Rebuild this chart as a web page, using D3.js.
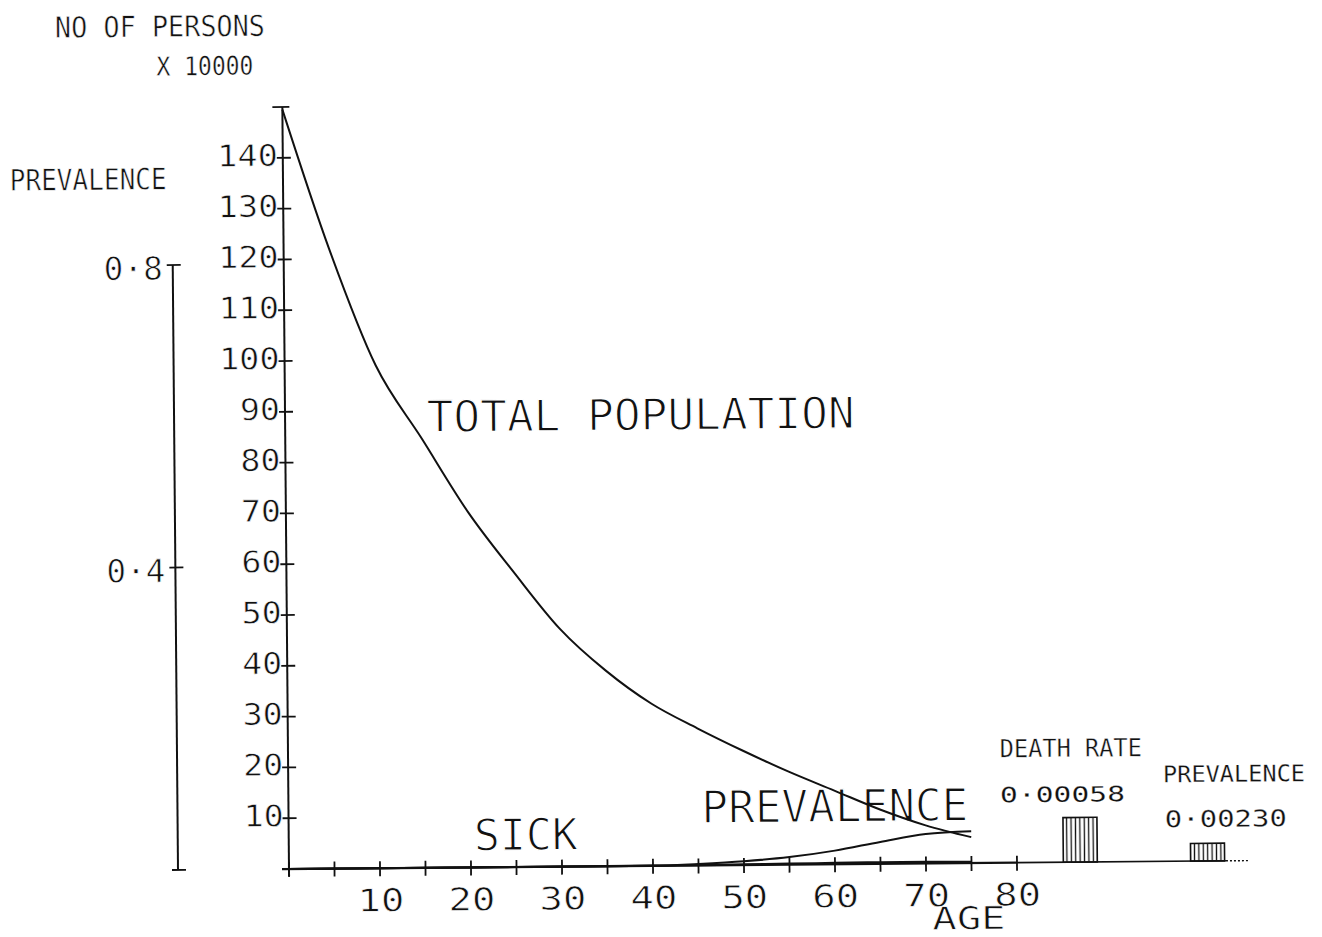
<!DOCTYPE html>
<html>
<head>
<meta charset="utf-8">
<script src="https://cdn.jsdelivr.net/npm/d3@7"></script>
<style>
  html, body { margin: 0; padding: 0; background: #fff; }
  svg { display: block; }
  text { font-family: "DejaVu Sans Mono", monospace; fill: #111; }
</style>
</head>
<body>
<svg id="chart" width="1322" height="937"></svg>
<script>
// Ages (years) at which the model curves are tabulated
const ages = [0, 5, 10, 15, 20, 25, 30, 35, 40, 45, 50, 55, 60, 65, 70, 75];
// Total population, persons x 10000
const totalPopulation = [149.5, 122, 99, 84.5, 70, 58, 46.8, 38.5, 31.9, 27.0, 22.5, 18.3, 14.5, 10.7, 7.5, 5.1];
// Sick persons, x 10000
const sick = [0, 0, 0, 0, 0, 0, 0, 0.01, 0.02, 0.05, 0.11, 0.18, 0.26, 0.31, 0.29, 0.22];
// Prevalence (proportion of the age group that is sick)
const prevalence = [0, 0, 0, 0, 0, 0, 0, 0, 0, 0.002, 0.005, 0.010, 0.018, 0.029, 0.039, 0.042];

// Axis ticks and labels
const ageTicks = [0, 5, 10, 15, 20, 25, 30, 35, 40, 45, 50, 55, 60, 65, 70, 75, 80];
const ageLabels = [10, 20, 30, 40, 50, 60, 70, 80];
const personTicks = [10, 20, 30, 40, 50, 60, 70, 80, 90, 100, 110, 120, 130, 140];
const prevalenceTicks = [0, 0.4, 0.8];
const prevalenceLabels = [0.4, 0.8];

// Summary bars: steady-state death rate and prevalence
const summaryNames = ["DEATH RATE", "PREVALENCE"];
const summaryValues = [0.00058, 0.00230];
const summaryFullScale = [0.001, 0.01];

const INK = "#111";
const svg = d3.select("#chart");
svg.append("rect").attr("width", 1322).attr("height", 937).attr("fill", "#fff");

const ox = 289, oy = 869;
// the plotter sheet sits at a slight tilt
const g = svg.append("g").attr("transform", `rotate(-0.5, ${ox}, ${oy})`);
const gText = g.append("g");
const gInk = g.append("g");

const x = d3.scaleLinear().domain([0, 80]).range([ox, 1017]);
const yPersons = d3.scaleLinear().domain([0, 150]).range([oy, 107]);
const prevAxisX = 178;
const yPrev = d3.scaleLinear().domain([0, 0.8]).range([oy, 264]);

const fmtDot = d => d3.format(".1f")(d).replace(".", "\u00B7");

function label(txt, cx, baseline, size, width) {
  return gText.append("text")
    .attr("x", cx).attr("y", baseline)
    .attr("text-anchor", "middle")
    .attr("font-size", size)
    .attr("textLength", width)
    .attr("lengthAdjust", "spacingAndGlyphs")
    .text(txt);
}
function seg(x1, y1, x2, y2, w) {
  return gInk.append("line")
    .attr("x1", x1).attr("y1", y1).attr("x2", x2).attr("y2", y2)
    .attr("stroke", INK).attr("stroke-width", w || 1.8);
}

// ---- persons axis ----
const pa = gText.append("g").attr("transform", `translate(${ox},0)`)
  .call(d3.axisLeft(yPersons).tickValues(personTicks).tickSize(0).tickSizeOuter(0));
pa.attr("font-family", null).attr("font-size", null);
pa.select(".domain").remove();
pa.selectAll(".tick line").remove();
pa.selectAll(".tick text")
  .attr("x", -5).attr("dy", null).attr("y", 7.5)
  .attr("font-size", 30).attr("fill", INK)
  .attr("textLength", d => String(d).length * 20.5 - 1)
  .attr("lengthAdjust", "spacingAndGlyphs");
personTicks.forEach(v => seg(ox - 6, yPersons(v), ox + 8, yPersons(v)));
seg(ox, oy + 7, ox, yPersons(150), 2);
seg(ox - 10, yPersons(150), ox + 7, yPersons(150));

// ---- prevalence axis ----
const va = gText.append("g").attr("transform", `translate(${prevAxisX},0)`)
  .call(d3.axisLeft(yPrev).tickValues(prevalenceTicks).tickSize(0).tickSizeOuter(0)
    .tickFormat(d => prevalenceLabels.includes(d) ? fmtDot(d) : ""));
va.attr("font-family", null).attr("font-size", null);
va.select(".domain").remove();
va.selectAll(".tick line").remove();
va.selectAll(".tick text")
  .attr("x", -10).attr("dy", null).attr("y", 14)
  .attr("font-size", 32).attr("fill", INK)
  .attr("textLength", 59)
  .attr("lengthAdjust", "spacingAndGlyphs");
prevalenceTicks.forEach(v => seg(prevAxisX - 6, yPrev(v), prevAxisX + 8, yPrev(v)));
seg(prevAxisX, yPrev(0), prevAxisX, yPrev(0.8), 2);

// ---- age axis ----
const aa = gText.append("g").attr("transform", `translate(0,${oy})`)
  .call(d3.axisBottom(x).tickValues(ageLabels).tickSize(0).tickSizeOuter(0));
aa.attr("font-family", null).attr("font-size", null);
aa.select(".domain").remove();
aa.selectAll(".tick line").remove();
aa.selectAll(".tick text")
  .attr("dy", null).attr("y", 43)
  .attr("font-size", 31.5).attr("fill", INK)
  .attr("textLength", 47)
  .attr("lengthAdjust", "spacingAndGlyphs");
seg(ox - 7, oy, x(80), oy, 2.2);
ageTicks.forEach(v => seg(x(v), oy - 7, x(v), oy + 8));

// ---- curves ----
const popLine = d3.line().x((d, i) => x(ages[i])).y(d => yPersons(d)).curve(d3.curveMonotoneX);
gInk.append("path").datum(totalPopulation)
  .attr("d", popLine).attr("fill", "none").attr("stroke", INK).attr("stroke-width", 2);
gInk.append("path").datum(sick)
  .attr("d", popLine).attr("fill", "none").attr("stroke", INK).attr("stroke-width", 2.2);
const prevLine = d3.line().x((d, i) => x(ages[i])).y(d => yPrev(d)).curve(d3.curveMonotoneX);
gInk.append("path").datum(prevalence)
  .attr("d", prevLine).attr("fill", "none").attr("stroke", INK).attr("stroke-width", 2);

// ---- summary bars beyond age 80 ----
const band = d3.scaleBand().domain(summaryNames).range([1001, 1287]).paddingInner(0.733).paddingOuter(0.49);
seg(x(80), oy, 1226, oy, 1.6);
seg(1226, oy, 1248, oy, 1.4).attr("stroke-dasharray", "2 2");

const defs = svg.append("defs");
defs.append("pattern").attr("id", "hatch")
  .attr("patternUnits", "userSpaceOnUse").attr("width", 4.4).attr("height", 10)
  .append("line").attr("x1", 2.2).attr("x2", 2.2).attr("y1", 0).attr("y2", 10)
  .attr("stroke", INK).attr("stroke-width", 1.3);

summaryNames.forEach((name, i) => {
  const h = d3.scaleLinear().domain([0, summaryFullScale[i]]).range([0, 77]);
  gInk.append("rect")
    .attr("x", band(name)).attr("width", band.bandwidth())
    .attr("y", oy - h(summaryValues[i])).attr("height", h(summaryValues[i]))
    .attr("fill", "url(#hatch)").attr("stroke", INK).attr("stroke-width", 1.6);
});

// ---- titles and curve labels ----
label("NO OF PERSONS", 167.3, 35.6, 29, 210);
label("X 10000", 211.9, 74.3, 26, 97);
label("PREVALENCE", 94.2, 188.2, 29.5, 157);
label("TOTAL POPULATION", 644.6, 433.1, 43.5, 428);
label("SICK", 526.2, 852.1, 44, 104);
label("PREVALENCE", 835.4, 826.5, 45, 267);
label("AGE", 968.5, 935, 31.5, 73);
label(summaryNames[0], 1071.8, 763.5, 25, 142);
label("0\u00B7" + d3.format(".5f")(summaryValues[0]).slice(2), 1063.1, 808.5, 21, 125);
label(summaryNames[1], 1234.8, 789.9, 23, 142);
label("0\u00B7" + d3.format(".5f")(summaryValues[1]).slice(2), 1226.2, 834.9, 23, 122);

// pen-plotter lettering: trim the weight of the larger glyphs with a thin paper-coloured edge
gText.selectAll("text").each(function () {
  const fs = parseFloat(d3.select(this).attr("font-size")) || 30;
  const w = Math.max(0, fs * 0.05 - 0.9);
  d3.select(this)
    .attr("stroke", "#fff")
    .attr("stroke-width", w.toFixed(2))
    .attr("stroke-linejoin", "round");
});
</script>
</body>
</html>
